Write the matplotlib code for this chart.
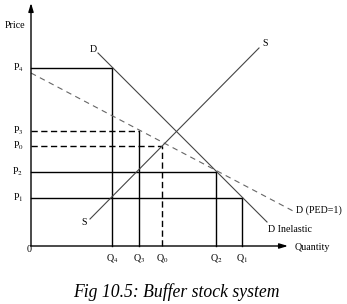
import matplotlib
matplotlib.use('Agg')
import matplotlib.pyplot as plt

# ---- data (arbitrary units: quantity along x, price along y) ----
quantities = [81, 108, 131, 185, 211]
q_labels = ['Q$_4$', 'Q$_3$', 'Q$_0$', 'Q$_2$', 'Q$_1$']
prices = [178, 115, 100, 74, 48]
p_labels = ['P$_4$', 'P$_3$', 'P$_0$', 'P$_2$', 'P$_1$']
h_dashed = [False, True, True, False, False]
v_dashed = [False, False, True, False, False]

demand_inelastic_q = [67, 236]
demand_inelastic_p = [193, 24]
demand_unit_q = [0, 264]
demand_unit_p = [173, 34]
supply_q = [59, 228]
supply_p = [27, 198]

x_max = 257
y_max = 243

plt.rcParams['font.family'] = ['Liberation Serif', 'DejaVu Serif']
plt.rcParams['mathtext.fontset'] = 'stix'

fig = plt.figure(figsize=(3.47, 3.04), dpi=100)
ax = fig.add_axes([0, 0, 1, 1])
ax.set_xlim(-31, 316)
ax.set_ylim(-58, 246)
ax.axis('off')

# axes with arrows
ax.annotate('', xy=(0, y_max), xytext=(0, 0),
            arrowprops=dict(arrowstyle='-|>,head_length=0.5,head_width=0.15', lw=1.0, color='black',
                            shrinkA=0, shrinkB=0))
ax.annotate('', xy=(x_max, 0), xytext=(0, 0),
            arrowprops=dict(arrowstyle='-|>,head_length=0.5,head_width=0.15', lw=1.0, color='black',
                            shrinkA=0, shrinkB=0))

# guide lines
for q, p, hd, vd in zip(quantities, prices, h_dashed, v_dashed):
    ax.plot([0, q], [p, p], color='black', lw=1.0,
            linestyle=(0, (4.5, 2.5)) if hd else '-')
    ax.plot([q, q], [0, p], color='black', lw=1.0,
            linestyle=(0, (4.5, 2.5)) if vd else '-')

# curves
ax.plot(demand_inelastic_q, demand_inelastic_p, color='#444444', lw=0.8)
ax.plot(demand_unit_q, demand_unit_p, color='#666666', lw=0.8, linestyle=(0, (5, 4)))
ax.plot(supply_q, supply_p, color='#444444', lw=0.8)

fs = 7.2
for q, lab in zip(quantities, q_labels):
    ax.text(q, -12, lab, ha='center', va='center', fontsize=fs)
for p, lab in zip(prices, p_labels):
    ax.text(-13, p, lab, ha='center', va='center', fontsize=fs)

ax.text(-2, -4, '0', ha='center', va='center', fontsize=fs)
ax.text(-16, 220, 'Price', ha='center', va='center', fontsize=fs)
ax.text(264, -2, 'Quantity', ha='left', va='center', fontsize=fs)
ax.text(265, 35.5, 'D (PED=1)', ha='left', va='center', fontsize=fs)
ax.text(237, 16.5, 'D Inelastic', ha='left', va='center', fontsize=fs)
ax.text(62.5, 196, 'D', ha='center', va='center', fontsize=fs)
ax.text(234.5, 202, 'S', ha='center', va='center', fontsize=fs)
ax.text(53.5, 23.5, 'S', ha='center', va='center', fontsize=fs)

ax.text(145, -46, 'Fig 10.5: Buffer stock system', ha='center', va='center',
        fontsize=12.7, style='italic')

fig.savefig('out.png', dpi=100)
